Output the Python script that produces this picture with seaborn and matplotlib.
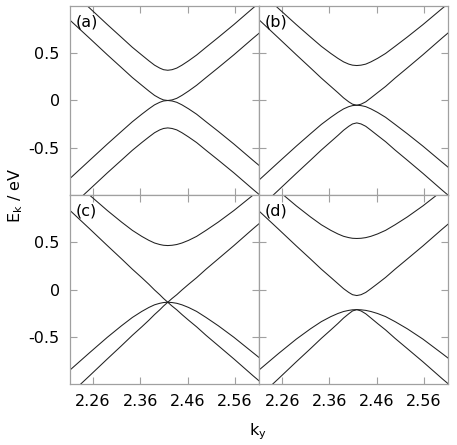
import matplotlib
matplotlib.use("Agg")
import matplotlib.pyplot as plt
import seaborn as sns

# k_y sample points (shared by every band)
ky = [2.205, 2.252, 2.290, 2.320, 2.343, 2.363, 2.378, 2.390, 2.401, 2.409, 2.418,
      2.427, 2.437, 2.448, 2.462, 2.479, 2.499, 2.525, 2.558, 2.599, 2.651]

# panel (a)
a1 = [1.198, 0.981, 0.804, 0.668, 0.563, 0.481, 0.420, 0.374, 0.343, 0.326, 0.320,
      0.326, 0.343, 0.374, 0.420, 0.481, 0.563, 0.668, 0.804, 0.981, 1.198]
a2 = [0.878, 0.661, 0.484, 0.348, 0.243, 0.161, 0.100, 0.054, 0.023, 0.006, 0.0,
      0.006, 0.023, 0.054, 0.100, 0.161, 0.243, 0.348, 0.484, 0.661, 0.878]
a3 = [-0.853, -0.636, -0.461, -0.327, -0.225, -0.145, -0.088, -0.046, -0.019, -0.005, 0.0,
      -0.005, -0.019, -0.046, -0.088, -0.145, -0.225, -0.327, -0.461, -0.636, -0.853]
a4 = [-1.160, -0.943, -0.766, -0.631, -0.527, -0.445, -0.386, -0.341, -0.311, -0.296, -0.290,
      -0.296, -0.311, -0.341, -0.386, -0.445, -0.527, -0.631, -0.766, -0.943, -1.160]

# panel (b)
b1 = [1.190, 0.975, 0.803, 0.672, 0.573, 0.498, 0.446, 0.409, 0.385, 0.374, 0.370,
      0.374, 0.385, 0.409, 0.446, 0.498, 0.573, 0.672, 0.803, 0.975, 1.190]
b2 = [0.883, 0.663, 0.484, 0.345, 0.237, 0.149, 0.083, 0.028, -0.014, -0.039, -0.050,
      -0.039, -0.014, 0.028, 0.083, 0.149, 0.237, 0.345, 0.484, 0.663, 0.883]
b3 = [-0.870, -0.655, -0.483, -0.352, -0.253, -0.178, -0.126, -0.089, -0.065, -0.054, -0.050,
      -0.054, -0.065, -0.089, -0.126, -0.178, -0.253, -0.352, -0.483, -0.655, -0.870]
b4 = [-1.170, -0.950, -0.771, -0.632, -0.524, -0.436, -0.370, -0.315, -0.273, -0.248, -0.237,
      -0.248, -0.273, -0.315, -0.370, -0.436, -0.524, -0.632, -0.771, -0.950, -1.170]

# panel (c)
c1 = [1.209, 1.001, 0.836, 0.714, 0.626, 0.562, 0.520, 0.492, 0.476, 0.468, 0.465,
      0.468, 0.476, 0.492, 0.520, 0.562, 0.626, 0.714, 0.836, 1.001, 1.209]
c2 = [0.865, 0.645, 0.465, 0.325, 0.215, 0.125, 0.055, -0.005, -0.055, -0.095, -0.135,
      -0.175, -0.215, -0.265, -0.325, -0.395, -0.485, -0.595, -0.735, -0.915, -1.135]
c3 = [-1.135, -0.915, -0.735, -0.595, -0.485, -0.395, -0.325, -0.265, -0.215, -0.175, -0.135,
      -0.095, -0.055, -0.005, 0.055, 0.125, 0.215, 0.325, 0.465, 0.645, 0.865]
c4 = [-0.879, -0.671, -0.506, -0.384, -0.296, -0.232, -0.190, -0.162, -0.146, -0.138, -0.135,
      -0.138, -0.146, -0.162, -0.190, -0.232, -0.296, -0.384, -0.506, -0.671, -0.879]

# panel (d)
d1 = [1.250, 1.045, 0.885, 0.768, 0.685, 0.626, 0.588, 0.563, 0.549, 0.542, 0.540,
      0.542, 0.549, 0.563, 0.588, 0.626, 0.685, 0.768, 0.885, 1.045, 1.250]
d2 = [0.859, 0.640, 0.461, 0.323, 0.215, 0.128, 0.062, 0.009, -0.031, -0.055, -0.064,
      -0.055, -0.031, 0.009, 0.062, 0.128, 0.215, 0.323, 0.461, 0.640, 0.859]
d3 = [-1.164, -0.945, -0.765, -0.626, -0.517, -0.428, -0.360, -0.302, -0.257, -0.227, -0.213,
      -0.227, -0.257, -0.302, -0.360, -0.428, -0.517, -0.626, -0.765, -0.945, -1.164]
d4 = [-0.878, -0.679, -0.525, -0.416, -0.340, -0.287, -0.254, -0.233, -0.221, -0.215, -0.213,
      -0.215, -0.221, -0.233, -0.254, -0.287, -0.340, -0.416, -0.525, -0.679, -0.878]

panel_names = ["(a)", "(b)", "(c)", "(d)"]
x_ticks = [2.26, 2.36, 2.46, 2.56]
x_labels = ["2.26", "2.36", "2.46", "2.56"]
y_ticks = [-0.5, 0, 0.5]
y_labels = ["-0.5", "0", "0.5"]

GREY = "#a0a0a0"
FS = 11.5


def draw_panel(ax, bands, name, left, bottom):
    for band in bands:
        sns.lineplot(x=ky, y=band, ax=ax, color="#202020", lw=0.75,
                     estimator=None, sort=False, legend=False)
    ax.set_xlim(2.21, 2.61)
    ax.set_ylim(-1, 1)
    ax.set_xticks(x_ticks)
    ax.set_yticks(y_ticks)
    ax.set_xticklabels(x_labels if bottom else [])
    ax.set_yticklabels(y_labels if left else [])
    ax.tick_params(direction="in", length=5, width=0.8, color=GREY, labelcolor="black",
                   top=True, right=True, labelsize=FS, pad=7)
    for sp in ax.spines.values():
        sp.set_color(GREY)
        sp.set_linewidth(0.9)
    ax.set_xlabel("")
    ax.set_ylabel("")
    ax.text(0.03, 0.955, name, transform=ax.transAxes, ha="left", va="top",
            fontsize=FS, color="black")


def main():
    sns.set_style("ticks")
    plt.rcParams["font.family"] = ["DejaVu Sans"]
    plt.rcParams["axes.unicode_minus"] = False

    fig = plt.figure(figsize=(4.57, 4.45), dpi=100)
    w, h = 189 / 457, 189 / 445
    x0, x1 = 69.5 / 457, 258.5 / 457
    y_top, y_bot = 1 - 195 / 445, 1 - 384 / 445

    axes = [fig.add_axes([x0, y_top, w, h]), fig.add_axes([x1, y_top, w, h]),
            fig.add_axes([x0, y_bot, w, h]), fig.add_axes([x1, y_bot, w, h])]
    all_bands = [[a1, a2, a3, a4], [b1, b2, b3, b4], [c1, c2, c3, c4], [d1, d2, d3, d4]]

    for i, ax in enumerate(axes):
        draw_panel(ax, all_bands[i], panel_names[i], left=(i % 2 == 0), bottom=(i >= 2))

    fig.text(0.035, 1 - 195 / 445, r"E$_\mathrm{k}$ / eV", rotation=90,
             ha="center", va="center", fontsize=FS, color="black")
    fig.text(0.5645, 0.03, r"k$_\mathrm{y}$", ha="center", va="center",
             fontsize=FS, color="black")

    fig.savefig("out.png", dpi=100)


if __name__ == "__main__":
    main()
